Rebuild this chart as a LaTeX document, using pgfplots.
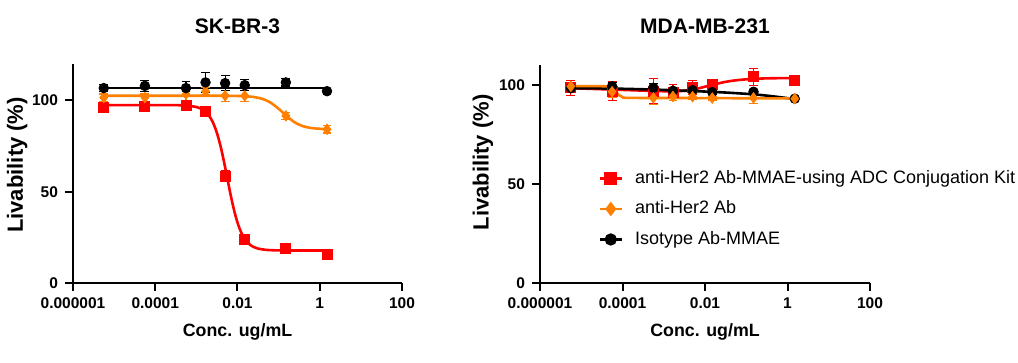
\documentclass[border=0pt]{standalone}
\usepackage{fontspec}
\setmainfont{Liberation Sans}
\usepackage{pgfplots}
\usepackage{pgfplotstable}
\pgfplotsset{compat=1.18}
\definecolor{cred}{RGB}{255,0,0}
\definecolor{corg}{RGB}{255,128,0}

% ---------- SK-BR-3 data ----------
\pgfplotstableread{
x y e
5.6e-6 96.2 1.2
5.6e-5 96.7 1.2
5.6e-4 97.4 2.0
1.67e-3 93.8 1.0
5.0e-3 58.6 3.0
1.5e-2 23.8 1.0
0.15 18.7 1.0
1.5 15.6 1.0
}\lRed
\pgfplotstableread{
x y e
5.6e-6 101.6 2.0
5.6e-5 101.6 2.0
5.6e-4 103.5 4.0
1.67e-3 105.0 2.0
5.0e-3 102.6 3.0
1.5e-2 102.6 3.0
0.15 91.6 2.0
1.5 84.2 2.0
}\lOrg
\pgfplotstableread{
x y e
5.6e-6 106.8 2.0
5.6e-5 108.0 3.0
5.6e-4 106.8 3.5
1.67e-3 109.9 5.5
5.0e-3 109.5 4.0
1.5e-2 108.4 3.0
0.15 109.9 2.0
1.5 105.1 0.5
}\lBlk
\pgfplotstableread{
x y
5.62e-6 97.5
5.62e-5 97.5
3.16e-4 97.44
5.62e-4 97.25
1.0e-3 96.45
1.259e-3 95.65
1.585e-3 94.27
1.995e-3 91.94
2.512e-3 88.12
3.162e-3 82.23
3.981e-3 73.86
5.012e-3 63.34
6.310e-3 51.95
7.943e-3 41.44
1.0e-2 33.08
1.259e-2 27.18
1.585e-2 23.36
1.995e-2 21.03
2.512e-2 19.65
3.162e-2 18.85
5.012e-2 18.14
0.1 17.86
0.3162 17.8
1.5 17.8
}\lRedC
\pgfplotstableread{
x y
5.62e-6 102.6
3.16e-3 102.6
1.0e-2 102.48
1.585e-2 102.31
2.512e-2 101.9
3.981e-2 100.93
6.310e-2 98.9
0.1 95.48
0.1259 93.4
0.1585 91.32
0.2512 87.9
0.3981 85.87
0.631 84.9
1.0 84.49
1.5 84.33
}\lOrgC
\pgfplotstableread{
x y
5.6e-6 106.9
1.5 106.9
}\lBlkC

% ---------- MDA-MB-231 data ----------
\pgfplotstableread{
x y e
5.6e-6 98.5 3.8
5.6e-5 96.8 4.8
5.6e-4 96.7 6.3
1.67e-3 96.0 4.0
5.0e-3 98.5 3.5
1.5e-2 100.3 2.0
0.15 104.0 4.3
1.5 102.3 1.0
}\rRed
\pgfplotstableread{
x y e
5.6e-6 99.2 1.0
5.6e-5 96.5 3.0
5.6e-4 93.4 3.5
1.67e-3 94.1 2.0
5.0e-3 94.0 1.5
1.5e-2 93.3 1.0
0.15 93.4 3.0
1.5 93.0 0.5
}\rOrg
\pgfplotstableread{
x y e
5.6e-6 98.3 1.0
5.6e-5 99.3 2.0
5.6e-4 98.5 2.0
1.67e-3 97.0 1.0
5.0e-3 97.3 1.0
1.5e-2 96.3 1.0
0.15 96.5 1.0
1.5 93.0 0.5
}\rBlk
\pgfplotstableread{
x y
5.62e-6 98.3
5.62e-5 97.6
5.62e-4 96.9
1.66e-3 96.7
3.162e-3 97.0
5.012e-3 97.6
7.943e-3 98.5
1.259e-2 99.6
1.995e-2 100.6
3.162e-2 101.5
6.31e-2 102.4
0.148 103.0
0.398 103.3
1.5 103.4
}\rRedC
\pgfplotstableread{
x y
5.62e-6 99.3
3.16e-5 99.3
5.01e-5 99.0
6.31e-5 97.8
7.94e-5 95.0
1.0e-4 93.8
1.585e-4 93.4
1.0e-2 93.3
1.5 93.1
}\rOrgC
\pgfplotstableread{
x y
5.62e-6 98.3
5.62e-5 98.1
5.62e-4 97.6
2.512e-3 97.1
1.0e-2 96.6
3.162e-2 96.1
0.148 95.2
0.398 94.3
1.5 92.8
}\rBlkC

\begin{document}
\begin{tikzpicture}
\path[use as bounding box] (0,0) rectangle (509pt,181.5pt);

\begin{axis}[
  scale only axis, xmode=log, xmin=1e-6, xmax=100, ymin=0,
  axis lines=left, axis line style={-, line width=1.1pt},
  xtick={1e-6,1e-4,1e-2,1,100},
  xticklabels={0.000001,0.0001,0.01,1,100},
  ytick={0,50,100}, yticklabels={0,50,100},
  xminorticks=false, yminorticks=false,
  tick align=outside, major tick length=4pt,
  tick style={line width=1pt, black},
  ticklabel style={font=\fontsize{7.75}{9}\selectfont\bfseries},
  title style={font=\fontsize{10.5}{12}\selectfont\bfseries, at={(0.5,1)}, anchor=base},
  xlabel style={font=\fontsize{8.9}{10}\selectfont\bfseries, at={(0.5,0)}, anchor=base, yshift=-27pt},
  ylabel style={font=\fontsize{11}{12}\selectfont\bfseries, anchor=center},
  xlabel={Conc. ug/mL}, ylabel={Livability (\%)},
  at={(36.5pt,40pt)}, anchor=south west,
  width=164.5pt, height=109.5pt, ymax=120,
  title={SK-BR-3}, title style={yshift=9pt},
  ylabel style={at={(axis description cs:-0.170,0.539)}},
]
\addplot[cred, line width=1.3pt, smooth, forget plot] table[x=x,y=y] {\lRedC};
\addplot[corg, line width=1.3pt, smooth, forget plot] table[x=x,y=y] {\lOrgC};
\addplot[black, line width=1.3pt, forget plot] table[x=x,y=y] {\lBlkC};
\addplot[cred, only marks, forget plot, mark=square*, mark size=2.5pt,
  error bars/y dir=both, error bars/y explicit,
  error bars/error bar style={line width=0.6pt},
  error bars/error mark options={rotate=90, mark size=2.2pt, line width=0.6pt}]
  table[x=x,y=y,y error=e] {\lRed};
\addplot[corg, only marks, forget plot, mark=diamond*, mark size=2.6pt,
  error bars/y dir=both, error bars/y explicit,
  error bars/error bar style={line width=0.6pt},
  error bars/error mark options={rotate=90, mark size=2.2pt, line width=0.6pt}]
  table[x=x,y=y,y error=e] {\lOrg};
\addplot[black, only marks, forget plot, mark=*, mark size=2.4pt,
  error bars/y dir=both, error bars/y explicit,
  error bars/error bar style={line width=0.6pt},
  error bars/error mark options={rotate=90, mark size=2.2pt, line width=0.6pt}]
  table[x=x,y=y,y error=e] {\lBlk};
\end{axis}

\begin{axis}[
  scale only axis, xmode=log, xmin=1e-6, xmax=100, ymin=0,
  axis lines=left, axis line style={-, line width=1.1pt},
  xtick={1e-6,1e-4,1e-2,1,100},
  xticklabels={0.000001,0.0001,0.01,1,100},
  ytick={0,50,100}, yticklabels={0,50,100},
  xminorticks=false, yminorticks=false,
  tick align=outside, major tick length=4pt,
  tick style={line width=1pt, black},
  ticklabel style={font=\fontsize{7.75}{9}\selectfont\bfseries},
  title style={font=\fontsize{10.5}{12}\selectfont\bfseries, at={(0.5,1)}, anchor=base},
  xlabel style={font=\fontsize{8.9}{10}\selectfont\bfseries, at={(0.5,0)}, anchor=base, yshift=-27pt},
  ylabel style={font=\fontsize{11}{12}\selectfont\bfseries, anchor=center},
  xlabel={Conc. ug/mL}, ylabel={Livability (\%)},
  at={(270pt,40pt)}, anchor=south west,
  width=165pt, height=109pt, ymax=110,
  title={MDA-MB-231}, title style={yshift=9.5pt},
  ylabel style={at={(axis description cs:-0.173,0.553)}},
  legend image code/.code={\draw[mark repeat=2,mark phase=2,#1] plot coordinates {(0pt,0pt) (5.5pt,0pt) (11pt,0pt)};},
  legend style={at={(axis description cs:0.176,0.518)}, anchor=north west,
    draw=none, fill=none, inner sep=0pt, row sep=7.25pt, column sep=6pt,
    nodes={inner sep=0pt, text height=6.5pt, text depth=1.5pt},
    font=\fontsize{9}{10}\selectfont},
  legend cell align=left,
]
\addlegendimage{cred, line width=1.3pt, mark=square*, mark size=2.5pt}
\addlegendentry{anti-Her2 Ab-MMAE-using ADC Conjugation Kit}
\addlegendimage{corg, line width=1.3pt, mark=diamond*, mark size=2.6pt}
\addlegendentry{anti-Her2 Ab}
\addlegendimage{black, line width=1.3pt, mark=*, mark size=2.4pt}
\addlegendentry{Isotype Ab-MMAE}
\addplot[cred, line width=1.3pt, smooth, forget plot] table[x=x,y=y] {\rRedC};
\addplot[black, line width=1.3pt, smooth, forget plot] table[x=x,y=y] {\rBlkC};
\addplot[corg, line width=1.3pt, smooth, forget plot] table[x=x,y=y] {\rOrgC};
\addplot[cred, only marks, forget plot, mark=square*, mark size=2.5pt,
  error bars/y dir=both, error bars/y explicit,
  error bars/error bar style={line width=0.6pt},
  error bars/error mark options={rotate=90, mark size=2.2pt, line width=0.6pt}]
  table[x=x,y=y,y error=e] {\rRed};
\addplot[black, only marks, forget plot, mark=*, mark size=2.4pt,
  error bars/y dir=both, error bars/y explicit,
  error bars/error bar style={line width=0.6pt},
  error bars/error mark options={rotate=90, mark size=2.2pt, line width=0.6pt}]
  table[x=x,y=y,y error=e] {\rBlk};
\addplot[corg, only marks, forget plot, mark=diamond*, mark size=2.6pt,
  error bars/y dir=both, error bars/y explicit,
  error bars/error bar style={line width=0.6pt},
  error bars/error mark options={rotate=90, mark size=2.2pt, line width=0.6pt}]
  table[x=x,y=y,y error=e] {\rOrg};
\end{axis}
\end{tikzpicture}
\end{document}
